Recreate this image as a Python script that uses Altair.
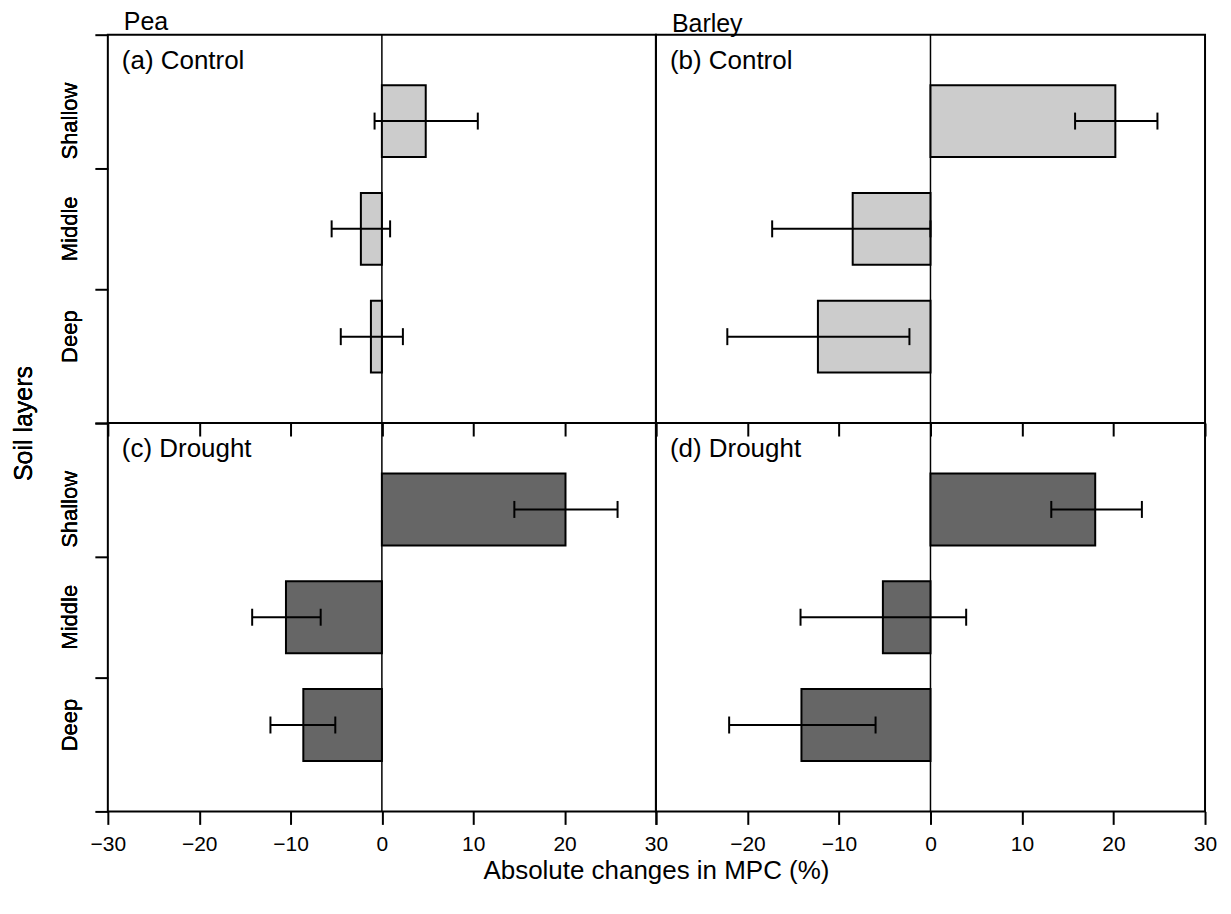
import altair as alt
import pandas as pd

FONT = "Liberation Sans"

# ---------------- data ----------------
layers = ["Shallow", "Middle", "Deep"]
panel_ids = ["a", "b", "c", "d"]
panel_labels = ["(a) Control", "(b) Control", "(c) Drought", "(d) Drought"]
crop_titles = ["Pea", "Barley"]

pea_control = [4.8, -2.3, -1.2]
pea_control_lo = [-0.8, -5.5, -4.5]
pea_control_hi = [10.5, 0.9, 2.3]

barley_control = [20.2, -8.5, -12.3]
barley_control_lo = [15.8, -17.3, -22.2]
barley_control_hi = [24.8, 0.0, -2.3]

pea_drought = [20.1, -10.5, -8.6]
pea_drought_lo = [14.5, -14.2, -12.2]
pea_drought_hi = [25.8, -6.7, -5.1]

barley_drought = [18.0, -5.2, -14.1]
barley_drought_lo = [13.2, -14.2, -22.0]
barley_drought_hi = [23.1, 3.9, -6.0]

x_ticks = [-30, -20, -10, 0, 10, 20, 30]
y_tick_marks = [0, 1.86, 3.54, 5.4]

x_title = "Absolute changes in MPC (%)"
y_title = "Soil layers"

# ---------------- tables ----------------
series = {
    "a": (pea_control, pea_control_lo, pea_control_hi),
    "b": (barley_control, barley_control_lo, barley_control_hi),
    "c": (pea_drought, pea_drought_lo, pea_drought_hi),
    "d": (barley_drought, barley_drought_lo, barley_drought_hi),
}
rows = []
for pid, (vals, los, his) in series.items():
    for lay, v, lo, hi in zip(layers, vals, los, his):
        rows.append({"panel": pid, "layer": lay, "value": v, "lo": lo, "hi": hi})
df = pd.DataFrame(rows)
labels_df = pd.DataFrame({"panel": panel_ids, "label": panel_labels})
ticks_df = pd.DataFrame({"pos": y_tick_marks})

H = 389
W_LEFT = 549
W_RIGHT = 550
LIGHT = "#cccccc"
DARK = "#666666"


def make_panel(pid, fill, width, title=None, with_y_axis=False, show_y_title=False,
               x_labels=False, show_x_title=False, hide_neg30=False):
    x_scale = alt.Scale(domain=[-30, 30], nice=False, zero=False)
    akw = dict(values=x_ticks, ticks=True, tickSize=13, tickWidth=2, tickColor="black",
               domain=False, grid=False, labels=x_labels)
    if x_labels:
        akw.update(labelFontSize=21, labelFont=FONT, labelColor="black", labelPadding=9,
                   labelFlush=False, labelOverlap=False)
        if hide_neg30:
            akw["labelExpr"] = "datum.value == -30 ? '' : datum.label"
    if show_x_title:
        akw.update(title=x_title, titleFontSize=26, titleFont=FONT, titleFontWeight="normal",
                   titleColor="black", titlePadding=3, titleX=width, titleAlign="center")
    else:
        akw["title"] = None
    x_axis = alt.Axis(**akw)

    y_scale = alt.Scale(domain=layers, paddingInner=0.333, paddingOuter=0.468)
    if with_y_axis:
        ykw = dict(ticks=False, domain=False, grid=False, labelAngle=270, labelAlign="center",
                   labelBaseline="bottom", labelFontSize=22, labelFont=FONT,
                   labelColor="black", labelPadding=26, orient="left")
        if show_y_title:
            ykw.update(title=y_title, titleFontSize=25, titleFont=FONT, titleFontWeight="normal",
                       titleColor="black", titlePadding=22, titleY=H, titleAlign="center")
        else:
            ykw["title"] = None
        y_enc = alt.Y("layer:N", scale=y_scale, axis=alt.Axis(**ykw))
    else:
        y_enc = alt.Y("layer:N", scale=y_scale, axis=None)

    base = alt.Chart(df).transform_filter(alt.datum.panel == pid)
    lab = alt.Chart(labels_df).transform_filter(alt.datum.panel == pid)

    zero = lab.mark_rule(color="black", strokeWidth=1.5).encode(
        x=alt.XDatum(0, scale=x_scale, axis=x_axis),
        y=alt.value(0), y2=alt.value(H))
    bars = base.mark_bar(fill=fill, stroke="black", strokeWidth=2, opacity=1).encode(
        x=alt.X("value:Q", scale=x_scale, axis=x_axis, stack=None), y=y_enc)
    err = base.mark_rule(color="black", strokeWidth=2).encode(
        x=alt.X("lo:Q", scale=x_scale, axis=x_axis), x2="hi:Q", y=y_enc)
    caps = base.transform_fold(["lo", "hi"], as_=["end", "xv"]).mark_tick(
        orient="vertical", size=17, thickness=2, color="black", opacity=1).encode(
        x=alt.X("xv:Q", scale=x_scale, axis=x_axis), y=y_enc)
    text = lab.mark_text(align="left", baseline="middle", fontSize=26, font=FONT,
                         color="black").encode(
        x=alt.value(14), y=alt.value(26), text="label:N")

    parts = [zero, bars, err, caps, text]
    if with_y_axis:
        tick_layer = alt.Chart(ticks_df).mark_point(opacity=0).encode(
            x=alt.value(0),
            y=alt.Y("pos:Q", scale=alt.Scale(domain=[0, 5.4], nice=False, zero=False),
                    axis=alt.Axis(values=y_tick_marks, labels=False, ticks=True, tickSize=13,
                                  tickWidth=2, tickColor="black", domain=False, grid=False,
                                  title=None, orient="left")))
        ch = alt.layer(tick_layer, *parts).resolve_scale(y="independent").resolve_axis(y="independent")
    else:
        ch = alt.layer(*parts)
    ch = ch.properties(width=width, height=H)
    if title:
        ch = ch.properties(title=alt.TitleParams(text=title, anchor="start", frame="group",
                                                 dx=16, offset=-3, fontSize=25, font=FONT,
                                                 fontWeight="normal", color="black"))
    return ch


pa = make_panel("a", LIGHT, W_LEFT, title=crop_titles[0], with_y_axis=True, show_y_title=True)
pb = make_panel("b", LIGHT, W_RIGHT, title=crop_titles[1])
pc = make_panel("c", DARK, W_LEFT, with_y_axis=True, x_labels=True, show_x_title=True)
pd_ = make_panel("d", DARK, W_RIGHT, x_labels=True, hide_neg30=True)

chart = alt.concat(pa, pb, pc, pd_, columns=2, spacing=0, bounds="flush").properties(
    padding={"left": 3, "top": 0, "right": 5, "bottom": 5}
).configure(font=FONT).configure_view(stroke="black", strokeWidth=2)

chart.save("out.html", embed_options={"renderer": "svg", "actions": False})
